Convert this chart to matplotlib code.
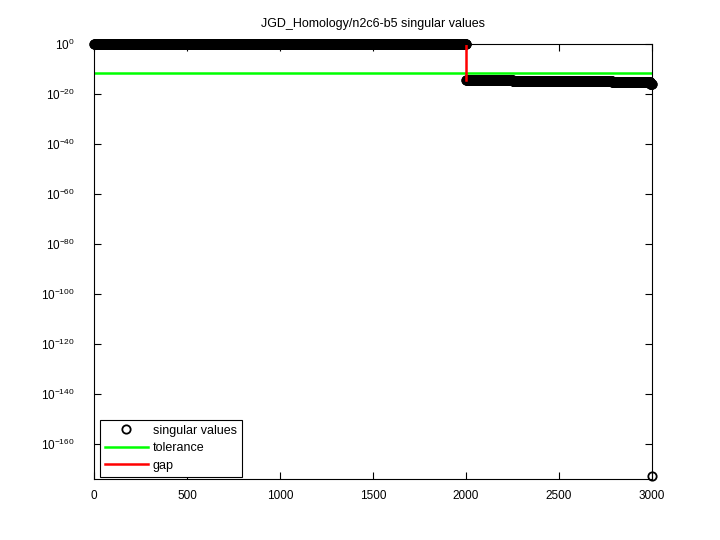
import numpy as np
import matplotlib
matplotlib.use("Agg")
import matplotlib.pyplot as plt
from matplotlib.ticker import FixedLocator, FuncFormatter, NullLocator

plt.rcParams['font.family'] = ['Liberation Sans', 'DejaVu Sans']
plt.rcParams['mathtext.default'] = 'regular'

# Data: singular values as piecewise levels
seg_lengths = [2000, 250, 535, 205, 9, 1]
seg_levels = [1.0, 4e-15, 1.5e-15, 7e-16, 1.5e-16, 1e-173]
tolerance = 2.5e-12
gap_index = 2000
title = "JGD_Homology/n2c6-b5 singular values"
xticks = [0, 500, 1000, 1500, 2000, 2500, 3000]
ytick_exps = [0, -20, -40, -60, -80, -100, -120, -140, -160]

sv = np.repeat(seg_levels, seg_lengths)
idx = np.arange(1, len(sv) + 1)

fig = plt.figure(figsize=(7.2, 5.4), dpi=100)
ax = fig.add_axes([0.1306, 0.113, 0.775, 0.8055])

ax.semilogy(idx, sv, 'o', mfc='none', mec='black', mew=1.3, ms=6,
            label='singular values', clip_on=False)
ax.plot([0, 3000], [tolerance, tolerance], color='#00ff00', lw=1.8,
        label='tolerance')
ax.plot([gap_index, gap_index], [sv[gap_index - 1], sv[gap_index]],
        color='#ff0000', lw=1.8, label='gap')

ax.set_xlim(0, 3000)
ax.set_ylim(1e-174, 1.0)
ax.set_xticks(xticks)
ax.yaxis.set_major_locator(FixedLocator([10.0 ** e for e in ytick_exps]))
ax.yaxis.set_major_formatter(FuncFormatter(
    lambda v, p: r'$10^{%d}$' % int(round(np.log10(v)))))
ax.yaxis.set_minor_locator(NullLocator())
ax.tick_params(direction='in', top=True, right=True, labelsize=8.5,
               length=5, width=0.8)
ax.tick_params(axis='y', pad=14)
ax.tick_params(axis='x', pad=8)
for s in ax.spines.values():
    s.set_linewidth(0.8)
ax.set_title(title, fontsize=9, pad=12)

leg = ax.legend(loc='lower left', bbox_to_anchor=(0.011, 0.005),
                borderaxespad=0, fontsize=9, fancybox=False,
                edgecolor='black', framealpha=1,
                handlelength=3.4, handletextpad=0.4, labelspacing=0.45,
                borderpad=0.4)
leg.get_frame().set_linewidth(0.8)

fig.savefig('out.png', dpi=100)
